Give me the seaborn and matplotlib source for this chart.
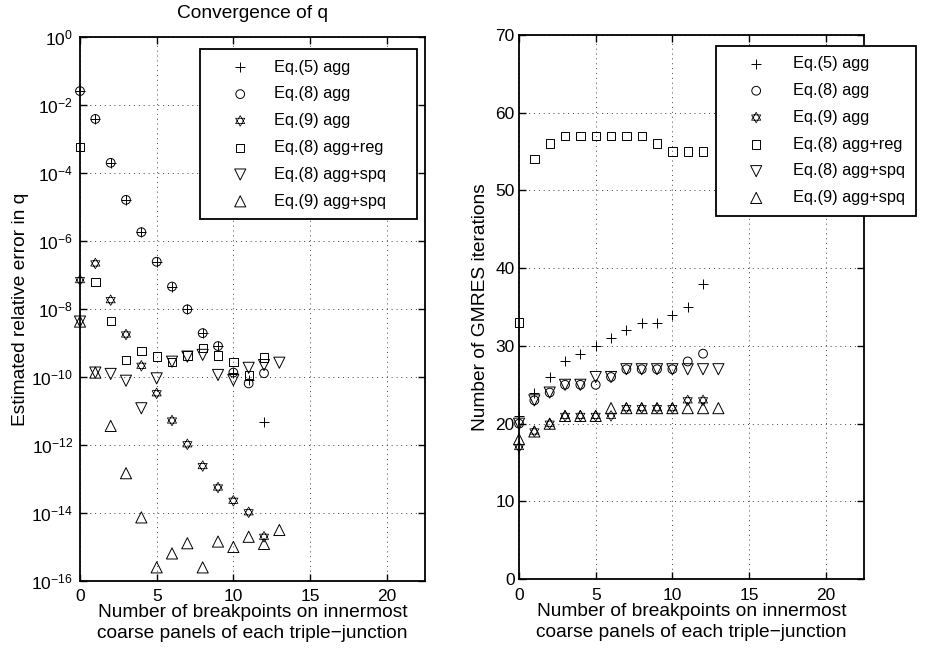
import numpy as np
import pandas as pd
import matplotlib
matplotlib.use("Agg")
import matplotlib.pyplot as plt
from matplotlib.path import Path
import seaborn as sns

# ---------------- data ----------------
labels = ["Eq.(5) agg", "Eq.(8) agg", "Eq.(9) agg",
          "Eq.(8) agg+reg", "Eq.(8) agg+spq", "Eq.(9) agg+spq"]

# Left panel: log10 of estimated relative error in q
err_x = list(range(0, 14))
err_eq5_agg = [-1.59, -2.41, -3.70, -4.79, -5.74, -6.61, -7.34, -8.01, -8.71, -9.09, -9.87, -10.09, -11.33]
err_eq8_agg = [-1.59, -2.41, -3.70, -4.79, -5.74, -6.61, -7.34, -8.01, -8.71, -9.09, -9.87, -10.19, -9.89]
err_eq9_agg = [-7.15, -6.66, -7.74, -8.75, -9.67, -10.48, -11.28, -11.98, -12.62, -13.25, -13.64, -13.98, -14.70]
err_eq8_reg = [-3.23, -7.20, -8.35, -9.50, -9.24, -9.40, -9.55, -9.37, -9.14, -9.37, -9.55, -9.94, -9.43]
err_eq8_spq = [-8.37, -9.87, -9.91, -10.11, -10.92, -10.04, -9.55, -9.40, -9.35, -9.94, -10.09, -9.73, -9.65, -9.58]
err_eq9_spq = [-8.37, -9.87, -11.44, -12.83, -14.13, -15.60, -15.19, -14.89, -15.60, -14.84, -15.00, -14.70, -14.91, -14.50]

# Right panel: number of GMRES iterations
it_eq5_agg = [21, 24, 26, 28, 29, 30, 31, 32, 33, 33, 34, 35, 38]
it_eq8_agg = [20, 23, 24, 25, 25, 25, 26, 27, 27, 27, 27, 28, 29]
it_eq9_agg = [17, 19, 20, 21, 21, 21, 21, 22, 22, 22, 22, 23, 23]
it_eq8_reg = [33, 54, 56, 57, 57, 57, 57, 57, 57, 56, 55, 55, 55]
it_eq8_spq = [20, 23, 24, 25, 25, 26, 26, 27, 27, 27, 27, 27, 27, 27]
it_eq9_spq = [18, 19, 20, 21, 21, 21, 22, 22, 22, 22, 22, 22, 22, 22]

left_ticks = [0, -2, -4, -6, -8, -10, -12, -14, -16]
right_ticks = [0, 10, 20, 30, 40, 50, 60, 70]
x_ticks = [0, 5, 10, 15, 20]

# ---------------- style ----------------
sns.set_theme(style="white")
plt.rcParams["font.family"] = ["Liberation Sans", "DejaVu Sans"]
plt.rcParams["mathtext.default"] = "regular"
plt.rcParams["axes.edgecolor"] = "black"
plt.rcParams["axes.linewidth"] = 1.3
plt.rcParams["text.color"] = "black"
plt.rcParams["axes.labelcolor"] = "black"
plt.rcParams["xtick.color"] = "black"
plt.rcParams["ytick.color"] = "black"

# hexagram marker: two overlapping triangles
r = 1.0
up = [(r * np.cos(np.radians(a)), r * np.sin(np.radians(a))) for a in (90, 210, 330)]
dn = [(r * np.cos(np.radians(a)), r * np.sin(np.radians(a))) for a in (270, 30, 150)]
hex_verts = up + [up[0]] + dn + [dn[0]]
hex_codes = [Path.MOVETO, Path.LINETO, Path.LINETO, Path.CLOSEPOLY] * 2
hexagram = Path(hex_verts, hex_codes)

markers = ["+", "o", hexagram, "s", "v", "^"]
sizes = [7.5, 6.3, 7.6, 6.0, 8.0, 8.0]
widths = [0.7, 0.7, 0.55, 0.7, 0.7, 0.7]

fig = plt.figure(figsize=(9.27, 6.55), dpi=100)
axL = fig.add_axes([0.0863, 0.1130, 0.3722, 0.8305])
axR = fig.add_axes([0.5599, 0.1156, 0.3722, 0.8314])

left_series = [err_eq5_agg, err_eq8_agg, err_eq9_agg, err_eq8_reg, err_eq8_spq, err_eq9_spq]
right_series = [it_eq5_agg, it_eq8_agg, it_eq9_agg, it_eq8_reg, it_eq8_spq, it_eq9_spq]


def draw(ax, series, logy):
    for lab, vals, m, ms, lw in zip(labels, series, markers, sizes, widths):
        xs = err_x[:len(vals)]
        ys = [10.0 ** v for v in vals] if logy else vals
        fc = "black" if m == "+" else "none"
        sns.scatterplot(x=xs, y=ys, marker=m, s=ms ** 2, color="black",
                        facecolor=fc, edgecolor="black", linewidth=lw,
                        label=lab, ax=ax, clip_on=False, zorder=3)


draw(axL, left_series, True)
draw(axR, right_series, False)

axL.set_yscale("log")
axL.set_ylim(1e-16, 1e0)
axL.set_yticks([10.0 ** t for t in left_ticks])
axL.set_yticklabels([r"$10^{%d}$" % t for t in left_ticks])
axL.yaxis.set_minor_locator(matplotlib.ticker.NullLocator())
axR.set_ylim(0, 70)
axR.set_yticks(right_ticks)

for ax in (axL, axR):
    ax.set_xlim(0, 22.5)
    ax.set_xticks(x_ticks)
    ax.grid(True, which="major", color="#444444", linestyle=(0, (1, 4)), linewidth=0.7)
    ax.tick_params(direction="in", length=5, width=1.0, labelsize=12.5, colors="black",
                   top=True, right=True, bottom=True, left=True)
    ax.tick_params(axis="x", pad=6)
    for sp in ax.spines.values():
        sp.set_visible(True)
        sp.set_color("black")
        sp.set_linewidth(1.3)
    ax.set_xlabel("Number of breakpoints on innermost\ncoarse panels of each triple\u2212junction",
                  fontsize=13.8, linespacing=1.3, labelpad=0, color="black")
    ax.set_facecolor("white")

axL.tick_params(axis="y", pad=5)
axR.tick_params(axis="y", pad=3)
axL.set_ylabel("Estimated relative error in q", fontsize=13.8, labelpad=2, color="black")
axR.set_ylabel("Number of GMRES iterations", fontsize=13.8, labelpad=5, color="black")
axL.set_title("Convergence of q", fontsize=13.8, pad=14, color="black")

leg_kw = dict(fontsize=11.8, frameon=True, fancybox=False, framealpha=1.0,
              edgecolor="black", borderpad=0.65, handlelength=3.6,
              labelspacing=0.72, scatterpoints=1, borderaxespad=0, labelcolor="black")
legL = axL.legend(loc="upper left", bbox_to_anchor=(0.348, 0.978 - 0.3, 0.629, 0.3),
                  mode="expand", handletextpad=0.25, **leg_kw)
legR = axR.legend(loc="upper left", bbox_to_anchor=(0.571, 0.980),
                  handletextpad=0.46, **leg_kw)
for leg in (legL, legR):
    leg.get_frame().set_linewidth(1.3)
    leg.set_zorder(5)

fig.savefig("out.png", dpi=100, facecolor="white")
